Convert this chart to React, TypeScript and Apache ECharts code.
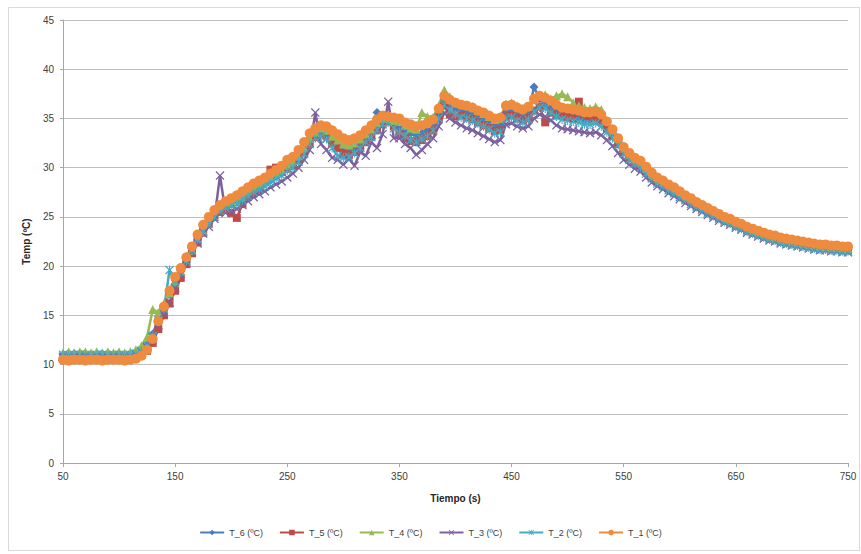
import React, { useEffect, useRef } from "react";
import * as echarts from "echarts";

const time = [
  50, 55, 60, 65, 70, 75, 80, 85, 90, 95,
  100, 105, 110, 115, 120, 125, 130, 135, 140, 145,
  150, 155, 160, 165, 170, 175, 180, 185, 190, 195,
  200, 205, 210, 215, 220, 225, 230, 235, 240, 245,
  250, 255, 260, 265, 270, 275, 280, 285, 290, 295,
  300, 305, 310, 315, 320, 325, 330, 335, 340, 345,
  350, 355, 360, 365, 370, 375, 380, 385, 390, 395,
  400, 405, 410, 415, 420, 425, 430, 435, 440, 445,
  450, 455, 460, 465, 470, 475, 480, 485, 490, 495,
  500, 505, 510, 515, 520, 525, 530, 535, 540, 545,
  550, 555, 560, 565, 570, 575, 580, 585, 590, 595,
  600, 605, 610, 615, 620, 625, 630, 635, 640, 645,
  650, 655, 660, 665, 670, 675, 680, 685, 690, 695,
  700, 705, 710, 715, 720, 725, 730, 735, 740, 745,
  750,
];

const T6 = [
  11.0, 11.0, 11.1, 11.0, 10.9, 11.0, 11.0, 11.1, 11.0, 11.0,
  11.0, 11.0, 11.1, 11.2, 11.5, 12.0, 13.1, 14.6, 16.0, 17.2,
  18.6, 19.5, 20.4, 21.8, 22.9, 23.9, 24.6, 25.3, 25.9, 26.1,
  26.3, 26.5, 26.9, 27.4, 27.8, 28.1, 28.4, 28.8, 29.2, 29.6,
  30.1, 30.4, 31.0, 31.8, 32.8, 33.3, 33.6, 33.4, 32.8, 32.3,
  32.0, 31.6, 32.2, 32.4, 32.9, 33.5, 35.6, 34.8, 35.0, 34.5,
  34.2, 33.8, 33.5, 33.3, 33.5, 33.8, 34.3, 35.4, 36.9, 36.4,
  36.0, 35.7, 35.6, 35.4, 35.1, 34.8, 34.5, 34.2, 34.3, 35.6,
  35.7, 35.4, 35.2, 35.5, 38.2, 37.0, 36.5, 36.1, 35.7, 35.4,
  35.3, 35.2, 35.1, 34.9, 34.9, 35.0, 34.8, 34.2, 33.5, 32.7,
  31.8, 31.2, 30.7, 30.4, 29.8, 29.2, 28.7, 28.4, 28.0, 27.7,
  27.3, 26.9, 26.6, 26.2, 25.9, 25.6, 25.3, 25.0, 24.7, 24.5,
  24.2, 24.0, 23.7, 23.5, 23.3, 23.1, 22.9, 22.8, 22.6, 22.5,
  22.4, 22.3, 22.2, 22.1, 22.0, 21.9, 21.9, 21.8, 21.8, 21.7,
  21.7,
];

const T5 = [
  10.7, 10.8, 10.7, 10.7, 10.8, 10.7, 10.7, 10.8, 10.7, 10.7,
  10.7, 10.8, 10.7, 10.8, 11.0, 11.4, 12.2, 13.6, 15.0, 16.2,
  17.5, 18.8, 20.2, 21.3, 22.4, 23.4, 24.3, 25.0, 25.5, 25.9,
  25.4, 24.9, 26.3, 27.0, 27.5, 27.8, 28.6, 29.8, 30.0, 29.6,
  29.9, 30.2, 30.8, 31.6, 32.5, 33.1, 33.4, 33.2, 32.5, 32.0,
  31.5, 31.3, 31.6, 32.0, 32.6, 33.2, 33.8, 34.4, 34.7, 34.2,
  33.5, 33.0, 32.7, 32.6, 32.8, 33.2, 33.8, 35.0, 36.3, 35.4,
  35.2, 35.3, 35.1, 34.9, 34.6, 34.3, 34.0, 33.7, 33.8, 35.2,
  35.3, 35.0, 34.8, 35.0, 35.8, 36.2, 34.6, 35.6, 35.3, 35.6,
  35.2, 35.0, 36.7, 35.3, 35.0, 35.1, 34.8, 34.0, 33.2, 32.4,
  31.6, 31.0, 30.5, 30.2, 29.6, 29.0, 28.6, 28.3, 27.9, 27.6,
  27.2, 26.8, 26.5, 26.1, 25.8, 25.5, 25.2, 24.9, 24.6, 24.4,
  24.1, 23.9, 23.6, 23.4, 23.2, 23.0, 22.8, 22.7, 22.5, 22.4,
  22.3, 22.2, 22.1, 22.0, 21.9, 21.8, 21.8, 21.7, 21.7, 21.6,
  21.6,
];

const T4 = [
  11.2, 11.3, 11.2, 11.3, 11.3, 11.2, 11.3, 11.2, 11.3, 11.2,
  11.3, 11.2, 11.3, 11.5, 11.9, 12.8, 15.6, 15.3, 16.2, 17.3,
  18.3, 19.5, 21.0, 21.6, 22.8, 23.6, 24.7, 25.5, 26.0, 26.3,
  26.5, 26.6, 27.1, 27.6, 28.0, 28.3, 28.6, 29.0, 29.5, 29.8,
  30.3, 30.6, 31.2, 32.0, 33.0, 33.6, 34.0, 33.8, 33.2, 32.8,
  32.4, 32.3, 32.5, 32.9, 33.4, 33.9, 34.6, 35.0, 35.0, 34.8,
  34.7, 34.3, 34.0, 33.9, 35.6, 35.2, 35.1, 36.3, 37.9, 37.2,
  36.7, 36.5, 36.4, 36.2, 35.8, 35.5, 35.2, 34.9, 35.0, 36.5,
  36.6, 36.3, 36.0, 36.3, 36.9, 37.4, 37.4, 37.0, 37.3, 37.5,
  37.2, 36.6, 36.3, 36.1, 36.0, 36.2, 35.9, 34.8, 33.8, 32.9,
  32.0, 31.3, 30.8, 30.5, 29.9, 29.3, 28.8, 28.5, 28.1, 27.8,
  27.4, 27.0, 26.7, 26.3, 26.0, 25.7, 25.4, 25.1, 24.8, 24.6,
  24.3, 24.1, 23.8, 23.6, 23.4, 23.2, 23.0, 22.9, 22.7, 22.6,
  22.5, 22.4, 22.3, 22.2, 22.1, 22.0, 22.0, 21.9, 21.9, 21.8,
  21.8,
];

const T3 = [
  10.8, 10.9, 10.8, 10.8, 10.9, 10.8, 10.9, 10.8, 10.8, 10.9,
  10.8, 10.9, 10.8, 11.0, 11.3, 11.8, 12.9, 14.0, 15.2, 16.3,
  17.8, 19.2, 20.3, 21.4, 22.3, 23.3, 24.0, 24.8, 29.2, 25.4,
  25.6, 25.8, 26.2, 26.6, 27.0, 27.3, 27.6, 28.0, 28.3, 28.6,
  29.0, 29.4, 30.0, 30.8, 31.8, 35.6, 32.4, 31.8, 31.0, 30.8,
  30.3, 30.9, 30.2, 31.6, 31.2, 32.6, 32.0, 33.4, 36.7, 33.0,
  33.0, 32.4, 32.0, 31.3, 31.8, 32.4, 33.0, 34.2, 35.6, 35.0,
  34.6, 34.3, 34.0, 33.8, 33.5, 33.2, 32.9, 32.6, 32.8, 34.4,
  34.5, 34.2, 34.0, 34.2, 35.0, 35.4, 35.2, 34.8, 34.3, 34.0,
  33.9, 33.8, 33.7, 33.6, 33.5, 33.6, 33.3, 32.8, 32.2, 31.5,
  30.8, 30.3, 29.9, 29.6, 29.0, 28.5, 28.1, 27.8, 27.4, 27.1,
  26.8, 26.4, 26.1, 25.8, 25.5, 25.2, 24.9, 24.6, 24.4, 24.2,
  23.9, 23.7, 23.4, 23.2, 23.0, 22.8, 22.6, 22.5, 22.3, 22.2,
  22.1, 22.0, 21.9, 21.8, 21.7, 21.6, 21.6, 21.5, 21.5, 21.4,
  21.4,
];

const T2 = [
  11.0, 10.9, 11.0, 11.0, 11.0, 10.9, 11.0, 11.0, 10.9, 11.0,
  11.0, 10.9, 11.0, 11.1, 11.4, 11.9, 12.9, 14.5, 15.6, 19.6,
  18.4, 19.4, 20.5, 21.6, 22.7, 23.5, 24.3, 25.0, 25.6, 25.9,
  26.1, 26.3, 26.7, 27.1, 27.5, 27.8, 28.1, 28.5, 28.9, 29.2,
  29.7, 30.0, 30.6, 31.4, 32.4, 33.0, 33.2, 32.9, 32.0, 31.2,
  31.0, 31.1, 31.5, 32.0, 32.6, 33.1, 33.8, 34.4, 34.6, 34.0,
  33.6, 33.2, 32.8, 32.6, 32.9, 33.2, 33.8, 35.0, 36.4, 35.8,
  35.4, 35.1, 35.0, 34.8, 34.5, 34.2, 33.9, 33.5, 33.6, 35.0,
  35.1, 34.8, 34.6, 34.9, 35.7, 36.1, 36.0, 35.6, 35.2, 34.9,
  34.8, 34.7, 34.6, 34.4, 34.4, 34.5, 34.2, 33.6, 33.0, 32.3,
  31.4, 30.8, 30.4, 30.0, 29.4, 28.9, 28.4, 28.1, 27.7, 27.4,
  27.0, 26.7, 26.3, 26.0, 25.7, 25.4, 25.1, 24.8, 24.5, 24.3,
  24.0, 23.8, 23.5, 23.3, 23.1, 22.9, 22.7, 22.6, 22.4, 22.3,
  22.2, 22.1, 22.0, 21.9, 21.8, 21.7, 21.7, 21.6, 21.6, 21.5,
  21.5,
];

const T1 = [
  10.5, 10.4, 10.5, 10.5, 10.4, 10.5, 10.5, 10.4, 10.5, 10.5,
  10.5, 10.4, 10.5, 10.6, 10.9, 11.5, 12.6, 14.4, 15.9, 17.5,
  18.9, 19.8, 20.9, 22.0, 23.2, 24.2, 25.0, 25.7, 26.2, 26.6,
  26.9, 27.2, 27.6, 28.0, 28.4, 28.7, 29.0, 29.4, 29.8, 30.2,
  30.8, 31.1, 31.8, 32.6, 33.5, 34.0, 34.3, 34.2, 33.8, 33.4,
  33.0, 32.8, 33.0, 33.3, 33.8, 34.3, 34.9, 35.3, 35.2, 35.1,
  35.0, 34.6, 34.4, 34.2, 34.3, 34.5, 34.9, 36.0, 37.3, 36.9,
  36.6, 36.4, 36.3, 36.1, 35.8, 35.6, 35.3, 35.0, 35.1, 36.3,
  36.4, 36.1, 35.9, 36.2, 37.0, 37.3, 37.1, 36.8, 36.4, 36.1,
  36.0, 35.9, 35.8, 35.6, 35.6, 35.7, 35.4, 34.7, 33.9, 33.0,
  32.1, 31.5, 31.0, 30.7, 30.1, 29.5, 29.0, 28.7, 28.3, 28.0,
  27.6, 27.2, 26.9, 26.5, 26.2, 25.9, 25.6, 25.3, 25.0, 24.8,
  24.5, 24.3, 24.0, 23.8, 23.6, 23.4, 23.2, 23.1, 22.9, 22.8,
  22.7, 22.6, 22.5, 22.4, 22.3, 22.2, 22.2, 22.1, 22.1, 22.0,
  22.0,
];

const seriesNames = ["T_6 (ºC)", "T_5 (ºC)", "T_4 (ºC)", "T_3 (ºC)", "T_2 (ºC)", "T_1 (ºC)"];
const seriesValues = [T6, T5, T4, T3, T2, T1];
const seriesColors = ["#4A7EBB", "#BE4B48", "#98B954", "#7D60A0", "#46AAC5", "#EE8B3E"];

const X_SYMBOL =
  "path://M0,1L1,0L5,4L9,0L10,1L6,5L10,9L9,10L5,6L1,10L0,9L4,5Z";
const STAR_SYMBOL =
  "path://M0,1L1,0L5,4L9,0L10,1L6,5L10,9L9,10L5,6L1,10L0,9L4,5Z M4.4,0L5.6,0L5.6,10L4.4,10Z";
const seriesSymbols = ["diamond", "rect", "triangle", X_SYMBOL, STAR_SYMBOL, "circle"];
const seriesSymbolSizes = [9, 8, 9, 9, 9, 10];

const FONT = "Liberation Sans, Arial, sans-serif";

export default function App() {
  const ref = useRef<HTMLDivElement>(null);

  useEffect(() => {
    if (!ref.current) return;
    const chart = echarts.init(ref.current, undefined, { renderer: "svg" });

    const series = seriesNames.map((name, i) => ({
      name,
      type: "line",
      data: time.map((t, j) => [t, seriesValues[i][j]]),
      symbol: seriesSymbols[i],
      symbolSize: seriesSymbolSizes[i],
      showAllSymbol: true,
      lineStyle: { width: 2.5, color: seriesColors[i] },
      itemStyle: { color: seriesColors[i] },
      emphasis: { disabled: true },
    }));

    chart.setOption({
      animation: false,
      color: seriesColors,
      textStyle: { fontFamily: FONT },
      grid: { left: 63, right: 13, top: 20, bottom: 91, containLabel: false },
      graphic: [
        {
          type: "rect",
          z: -10,
          shape: { x: 8.5, y: 7.5, width: 851, height: 543 },
          style: { fill: "none", stroke: "#D9D9D9", lineWidth: 1 },
        },
      ],
      xAxis: {
        type: "value",
        min: 50,
        max: 750,
        interval: 100,
        name: "Tiempo (s)",
        nameLocation: "middle",
        nameGap: 30,
        nameTextStyle: { fontWeight: "bold", fontSize: 10, color: "#262626", fontFamily: FONT },
        axisLine: { show: true, lineStyle: { color: "#A6A6A6", width: 1 } },
        axisTick: { show: true, length: 4, lineStyle: { color: "#A6A6A6" } },
        axisLabel: { fontSize: 10, color: "#404040", margin: 8, fontFamily: FONT },
        splitLine: { show: false },
      },
      yAxis: {
        type: "value",
        min: 0,
        max: 45,
        interval: 5,
        name: "Temp (ºC)",
        nameLocation: "middle",
        nameGap: 24,
        nameRotate: 90,
        nameTextStyle: { fontWeight: "bold", fontSize: 10, color: "#262626", fontFamily: FONT },
        axisLine: { show: true, lineStyle: { color: "#A6A6A6", width: 1 } },
        axisTick: { show: true, length: 3, lineStyle: { color: "#A6A6A6" } },
        axisLabel: { fontSize: 10, color: "#404040", margin: 9, fontFamily: FONT },
        splitLine: { show: true, lineStyle: { color: "#BFBFBF", width: 1 } },
      },
      legend: {
        data: seriesNames,
        top: 523,
        left: "center",
        itemWidth: 24,
        itemHeight: 7,
        itemGap: 16,
        textStyle: { fontSize: 9, color: "#404040", fontFamily: FONT },
      },
      series,
    });

    return () => chart.dispose();
  }, []);

  return (
    <div
      ref={ref}
      style={{ position: "absolute", left: 0, top: 0, width: 861, height: 554, background: "#fff" }}
    />
  );
}
